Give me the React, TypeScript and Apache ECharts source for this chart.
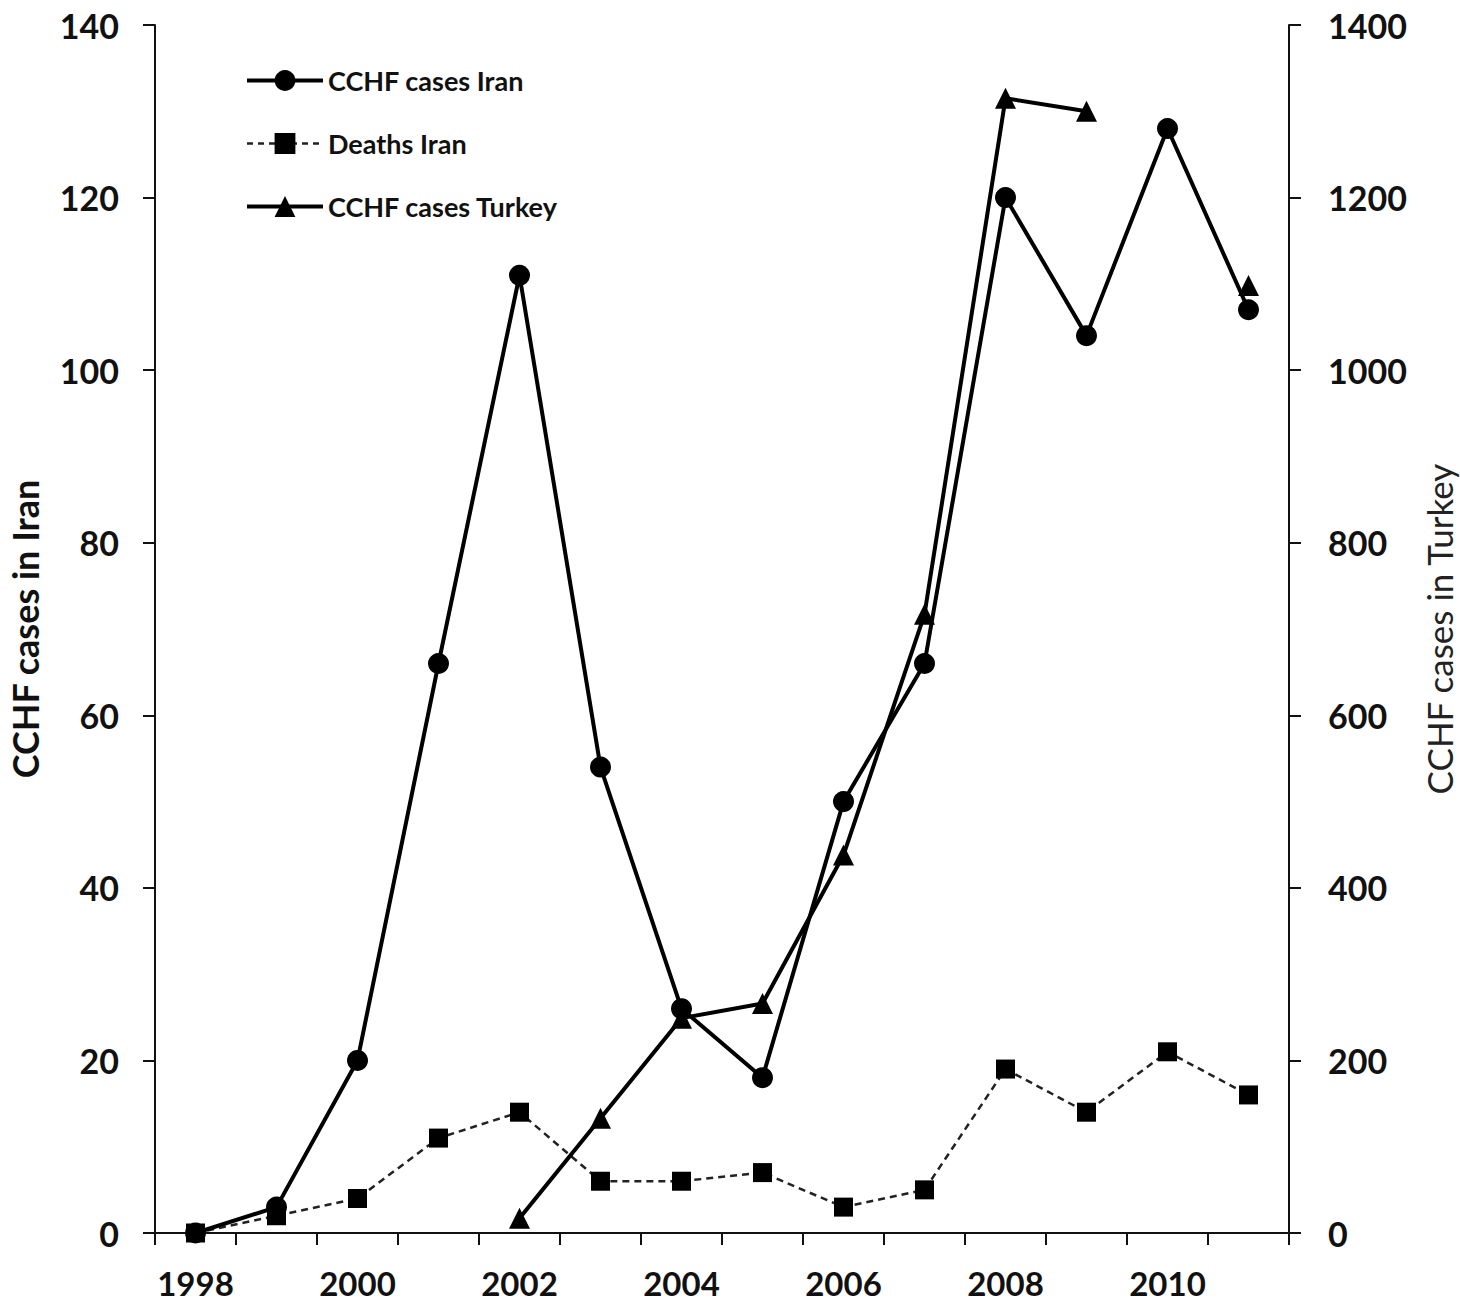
import React, { useEffect, useRef } from "react";
import * as echarts from "echarts";

const years = ["1998","1999","2000","2001","2002","2003","2004","2005","2006","2007","2008","2009","2010","2011"];
const casesIran = [0, 3, 20, 66, 111, 54, 26, 18, 50, 66, 120, 104, 128, 107];
const deathsIran = [0, 2, 4, 11, 14, 6, 6, 7, 3, 5, 19, 14, 21, 16];
const casesTurkey = [null, null, null, null, 17, 133, 249, 266, 438, 717, 1315, 1300, null, 1098];

const FONT = "Lato";

export default function App() {
  const ref = useRef<HTMLDivElement>(null);
  useEffect(() => {
    const chart = echarts.init(ref.current!, null, { renderer: "svg" });
    chart.setOption({
      animation: false,
      backgroundColor: "#ffffff",
      textStyle: { fontFamily: FONT },
      grid: { left: 155, right: 171, top: 25, bottom: 79, containLabel: false, outerBoundsMode: "none" },
      legend: {
        orient: "vertical",
        left: 240,
        top: 62,
        itemWidth: 76,
        itemHeight: 26,
        itemGap: 36,
        textStyle: { fontFamily: FONT, fontWeight: "bold", fontSize: 27, color: "#111" },
        data: [
          { name: "CCHF cases Iran", lineStyle: { width: 4 } },
          { name: "Deaths Iran", lineStyle: { width: 2.5, type: [6, 5] } },
          { name: "CCHF cases Turkey", lineStyle: { width: 4 } },
        ],
      },
      xAxis: {
        type: "category",
        data: years,
        boundaryGap: true,
        axisLine: { lineStyle: { color: "#111", width: 2 } },
        axisTick: { show: true, interval: 0, length: 12, lineStyle: { color: "#111", width: 2 } },
        axisLabel: { interval: 1, margin: 33, fontSize: 33, fontWeight: "bold", color: "#111", fontFamily: FONT },
        splitLine: { show: false },
      },
      yAxis: [
        {
          type: "value",
          min: 0,
          max: 140,
          interval: 20,
          name: "CCHF cases in Iran",
          nameLocation: "middle",
          nameGap: 112,
          nameRotate: 90,
          nameTextStyle: { fontSize: 36, fontWeight: "bold", color: "#111", fontFamily: FONT },
          axisLine: { show: true, lineStyle: { color: "#111", width: 2 } },
          axisTick: { show: true, length: 12, lineStyle: { color: "#111", width: 2 } },
          axisLabel: { margin: 36, fontSize: 34, fontWeight: "bold", color: "#111", fontFamily: FONT },
          splitLine: { show: false },
        },
        {
          type: "value",
          min: 0,
          max: 1400,
          interval: 200,
          position: "right",
          name: "CCHF cases in Turkey",
          nameLocation: "middle",
          nameGap: 132,
          nameRotate: 90,
          nameTextStyle: { fontSize: 35, fontWeight: "normal", color: "#222", fontFamily: FONT },
          axisLine: { show: true, lineStyle: { color: "#111", width: 2 } },
          axisTick: { show: true, length: 12, lineStyle: { color: "#111", width: 2 } },
          axisLabel: {
            margin: 39,
            fontSize: 34,
            fontWeight: "bold",
            color: "#111",
            fontFamily: FONT,
            formatter: (v: number) => String(v),
          },
          splitLine: { show: false },
        },
      ],
      series: [
        {
          name: "Deaths Iran",
          type: "line",
          yAxisIndex: 0,
          data: deathsIran,
          symbol: "rect",
          symbolSize: 19,
          itemStyle: { color: "#000" },
          lineStyle: { color: "#222", width: 2.5, type: [7, 5] },
          z: 2,
        },
        {
          name: "CCHF cases Iran",
          type: "line",
          yAxisIndex: 0,
          data: casesIran,
          symbol: "circle",
          symbolSize: 21,
          itemStyle: { color: "#000" },
          lineStyle: { color: "#000", width: 4 },
          z: 3,
        },
        {
          name: "CCHF cases Turkey",
          type: "line",
          yAxisIndex: 1,
          data: casesTurkey,
          connectNulls: false,
          symbol: "triangle",
          symbolSize: 21,
          itemStyle: { color: "#000" },
          lineStyle: { color: "#000", width: 4 },
          z: 3,
        },
      ],
    });
    return () => chart.dispose();
  }, []);
  return <div ref={ref} style={{ width: 1460, height: 1312, position: "absolute", left: 0, top: 0 }} />;
}
